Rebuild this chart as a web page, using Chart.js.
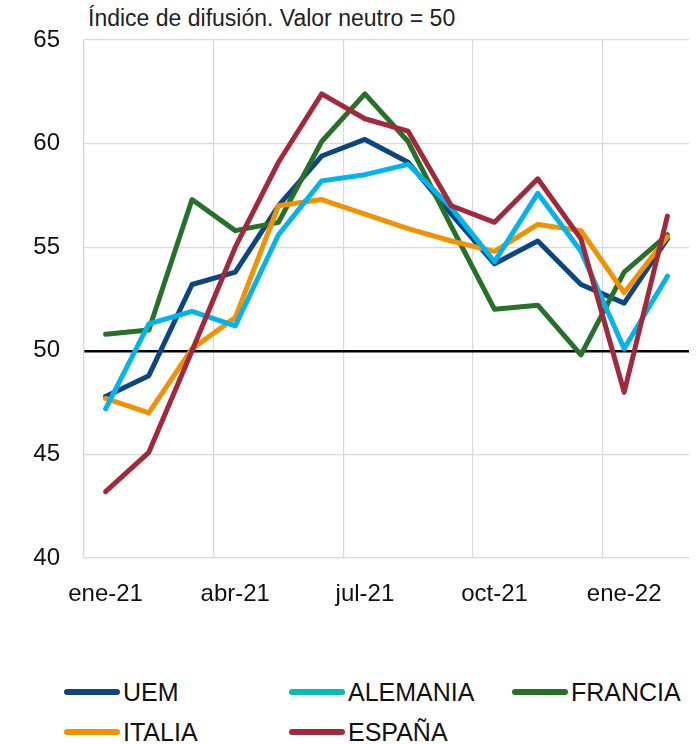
<!DOCTYPE html>
<html>
<head>
<meta charset="utf-8">
<script src="https://cdn.jsdelivr.net/npm/chart.js@4.4.1/dist/chart.umd.min.js"></script>
<style>
  body { margin: 0; background: #fff; font-family: "Liberation Sans", Arial, sans-serif; }
  #wrap { position: relative; width: 699px; height: 744px; }
  #title { position: absolute; left: 88px; top: 5px; font-size: 23px; color: #222; white-space: nowrap; }
  #myChart { position: absolute; left: 0; top: 0; }
  .lg { position: absolute; font-size: 25px; color: #111; line-height: 28px; white-space: nowrap; }
  .lg span { display: inline-block; width: 56px; height: 6px; border-radius: 3px; vertical-align: middle; margin-right: 3px; position: relative; top: -2px; }
</style>
</head>
<body>
<div id="wrap">
  <div id="title">Índice de difusión. Valor neutro = 50</div>
  <canvas id="myChart" width="699" height="620"></canvas>
  <div class="lg" style="left:64px; top:678px;"><span style="background:#0B4584"></span>UEM</div>
  <div class="lg" style="left:289px; top:678px;"><span style="background:#00BDB5"></span>ALEMANIA</div>
  <div class="lg" style="left:512px; top:678px;"><span style="background:#26702A"></span>FRANCIA</div>
  <div class="lg" style="left:64px; top:718px;"><span style="background:#F39200"></span>ITALIA</div>
  <div class="lg" style="left:289px; top:718px;"><span style="background:#A2283B"></span>ESPAÑA</div>
</div>
<script>
// months shown on the category axis (only every third one gets a label)
var months = ['ene-21', 'feb-21', 'mar-21', 'abr-21', 'may-21', 'jun-21', 'jul-21',
              'ago-21', 'sep-21', 'oct-21', 'nov-21', 'dic-21', 'ene-22', 'feb-22'];

// series values
var uem      = [47.8, 48.8, 53.2, 53.8, 57.0, 59.4, 60.2, 59.1, 56.6, 54.2, 55.3, 53.2, 52.3, 55.4];
var alemania = [47.2, 51.3, 51.9, 51.2, 55.6, 58.2, 58.5, 59.0, 56.9, 54.3, 57.6, 54.8, 50.1, 53.6];
var francia  = [50.8, 51.0, 57.3, 55.8, 56.2, 60.1, 62.4, 60.1, 56.0, 52.0, 52.2, 49.8, 53.8, 55.6];
var italia   = [47.7, 47.0, 50.1, 51.6, 57.0, 57.3, 56.6, 55.9, 55.3, 54.8, 56.1, 55.8, 52.8, 55.5];
var espana   = [43.2, 45.1, 50.0, 55.0, 59.1, 62.4, 61.2, 60.6, 57.0, 56.2, 58.3, 55.4, 48.0, 56.5];

var yTicks = [40, 45, 50, 55, 60, 65];

var gridGrey = '#d9d9d9';
var tickFont = { family: 'Liberation Sans', size: 24 };

function line(label, data, color, order) {
    return {
        label: label,
        data: data,
        borderColor: color,
        backgroundColor: color,
        borderWidth: 5,
        pointRadius: 0,
        tension: 0,
        borderJoinStyle: 'round',
        borderCapStyle: 'round',
        order: order
    };
}

var element = document.getElementById('myChart').getContext('2d');

var chart = new Chart(element, {
    type: 'line',
    data: {
        labels: months,
        datasets: [
            line('UEM', uem, '#0B4584', 5),
            line('ALEMANIA', alemania, '#00B4EF', 2),
            line('FRANCIA', francia, '#26702A', 4),
            line('ITALIA', italia, '#F39200', 3),
            line('ESPAÑA', espana, '#A2283B', 1)
        ]
    },
    options: {
        responsive: false,
        animation: false,
        devicePixelRatio: 1,
        layout: { padding: { left: 0, right: 10, top: 40, bottom: 0 } },
        plugins: {
            legend: { display: false },
            tooltip: { enabled: false }
        },
        scales: {
            x: {
                type: 'category',
                offset: true,
                grid: {
                    offset: true,
                    drawTicks: false,
                    lineWidth: 1.2,
                    color: function (ctx) { return ctx.index % 3 === 0 ? gridGrey : 'rgba(0,0,0,0)'; }
                },
                border: { display: true, color: gridGrey, width: 1.2 },
                ticks: {
                    autoSkip: false,
                    maxRotation: 0,
                    padding: 22,
                    color: '#111',
                    font: tickFont,
                    callback: function (value, index) {
                        return index % 3 === 0 ? this.getLabelForValue(value) : '';
                    }
                },
                afterFit: function (scale) { scale.height = 62; }
            },
            y: {
                min: 40,
                max: 65,
                afterBuildTicks: function (scale) {
                    scale.ticks = yTicks.map(function (v) { return { value: v }; });
                },
                grid: {
                    drawTicks: false,
                    color: function (ctx) { return ctx.tick && ctx.tick.value === 50 ? '#000' : gridGrey; },
                    lineWidth: function (ctx) { return ctx.tick && ctx.tick.value === 50 ? 2.5 : 1.2; }
                },
                border: { display: true, color: gridGrey, width: 1.2 },
                ticks: {
                    padding: 24,
                    color: '#111',
                    font: tickFont
                },
                afterFit: function (scale) { scale.width = 84; }
            }
        }
    }
});
</script>
</body>
</html>
